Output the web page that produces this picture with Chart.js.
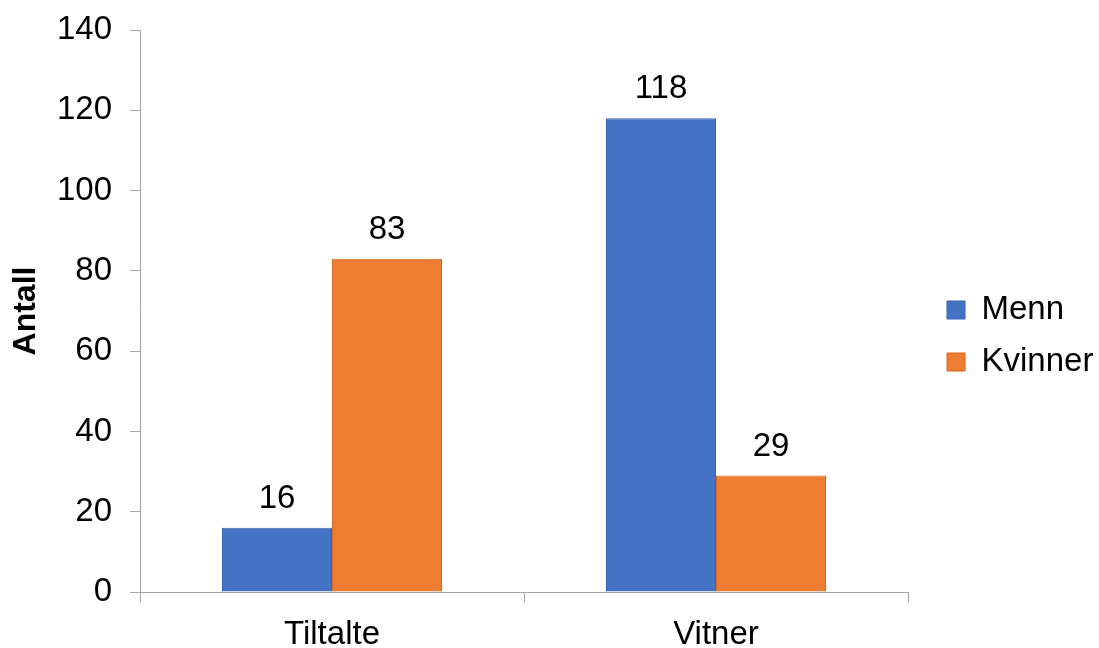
<!DOCTYPE html>
<html>
<head>
<meta charset="utf-8">
<script src="https://cdn.jsdelivr.net/npm/chart.js@4"></script>
<style>
html,body{margin:0;padding:0;background:#fff;}
#wrap{width:1099px;height:648px;}
</style>
</head>
<body>
<div id="wrap"><canvas id="c" width="1099" height="648"></canvas></div>
<script>
const categories = ['Tiltalte', 'Vitner'];
const menn = [16, 118];
const kvinner = [83, 29];
const seriesNames = ['Menn', 'Kvinner'];
const yTicks = [0, 20, 40, 60, 80, 100, 120, 140];

const FONT = "'Liberation Sans', Arial, sans-serif";
const LEGEND_W = 191;
const LEGEND_SHIFT = 20;
const LEGEND_LIFT = 3;

const valueLabels = {
  id: 'valueLabels',
  afterDatasetsDraw(chart) {
    const ctx = chart.ctx;
    ctx.save();
    ctx.font = '33px ' + FONT;
    ctx.fillStyle = '#000';
    ctx.textAlign = 'center';
    ctx.textBaseline = 'alphabetic';
    chart.data.datasets.forEach((ds, i) => {
      chart.getDatasetMeta(i).data.forEach((bar, j) => {
        ctx.fillText(String(ds.data[j]), bar.x, bar.y - 20);
      });
    });
    ctx.restore();
  }
};

const legendLayout = {
  id: 'legendLayout',
  beforeLayout(chart) {
    const lg = chart.legend;
    if (lg && !lg._fixedW) {
      const f = lg.fit;
      lg.fit = function () { f.call(this); this.width = LEGEND_W; };
      lg._fixedW = true;
    }
  },
  afterLayout(chart) {
    const lg = chart.legend;
    if (lg) {
      lg.left += LEGEND_SHIFT; lg.right += LEGEND_SHIFT;
      lg.top -= LEGEND_LIFT; lg.bottom -= LEGEND_LIFT;
    }
  }
};

new Chart(document.getElementById('c'), {
  type: 'bar',
  data: {
    labels: categories,
    datasets: [
      { label: seriesNames[0], data: menn, backgroundColor: '#4472C4', borderColor: '#3B65B0', borderWidth: 1,
        categoryPercentage: 0.573, barPercentage: 1.0 },
      { label: seriesNames[1], data: kvinner, backgroundColor: '#ED7D31', borderColor: '#D36A24', borderWidth: 1,
        categoryPercentage: 0.573, barPercentage: 1.0 }
    ]
  },
  options: {
    responsive: false,
    devicePixelRatio: 1,
    animation: false,
    layout: { padding: { top: 30, right: 0, bottom: 0, left: 0 } },
    plugins: {
      tooltip: { enabled: false },
      legend: {
        position: 'right',
        labels: {
          font: { size: 33, family: FONT },
          color: '#000',
          boxWidth: 18,
          boxHeight: 18,
          padding: 19
        }
      }
    },
    scales: {
      x: {
        grid: { display: true, drawOnChartArea: false, drawTicks: true, tickLength: 10, color: '#A6A6A6', offset: true },
        border: { display: true, color: '#A6A6A6', width: 1 },
        ticks: { font: { size: 33, family: FONT }, color: '#000', padding: 13 },
        afterFit(scale) { scale.height = 56; scale.paddingLeft = 0; scale.paddingRight = 0; }
      },
      y: {
        min: 0, max: 140,
        afterBuildTicks(scale) { scale.ticks = yTicks.map(v => ({ value: v })); },
        grid: { display: true, drawOnChartArea: false, drawTicks: true, tickLength: 10, color: '#A6A6A6' },
        border: { display: true, color: '#A6A6A6', width: 1 },
        ticks: { font: { size: 33, family: FONT }, color: '#000', padding: 18 },
        title: { display: true, text: 'Antall', font: { size: 32, weight: 'bold', family: FONT }, color: '#000', padding: { top: 7, bottom: 0 } },
        afterFit(scale) { scale.width = 140; scale.paddingTop = 0; scale.paddingBottom = 0; }
      }
    }
  },
  plugins: [legendLayout, valueLabels]
});
</script>
</body>
</html>
